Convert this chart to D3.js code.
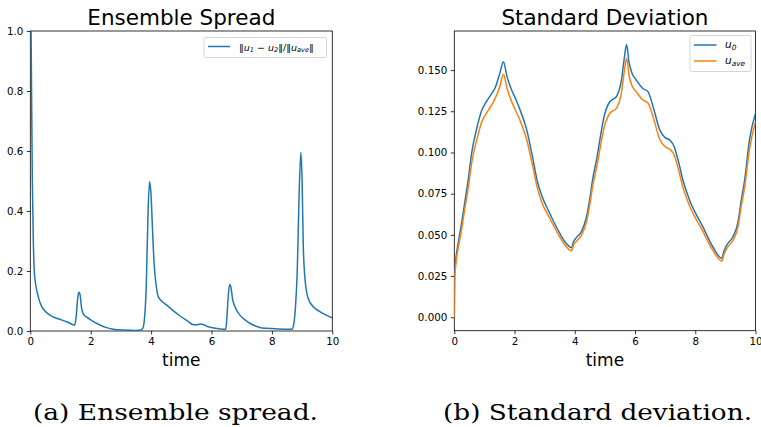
<!DOCTYPE html>
<html>
<head>
<meta charset="utf-8">
<script src="https://cdn.jsdelivr.net/npm/d3@7"></script>
<style>
  html, body { margin: 0; padding: 0; background: #fff; }
  svg { display: block; }
  text { fill: #000; }
</style>
</head>
<body>
<svg id="fig" width="761" height="427"></svg>
<script>
// ---- data: relative ensemble spread ----
const spreadTime = [0.00, 0.03, 0.066, 0.10, 0.13, 0.17, 0.21, 0.28, 0.38, 0.50, 0.65, 0.80, 0.98, 1.20, 1.42, 1.47,
  1.52, 1.57, 1.61, 1.65, 1.70, 1.76, 1.87, 2.05, 2.31, 2.50, 2.75, 3.10, 3.50, 3.65, 3.72, 3.78, 3.84, 3.90, 3.95,
  4.00, 4.05, 4.10, 4.17, 4.24, 4.35, 4.51, 4.75, 4.96, 5.20, 5.40, 5.50, 5.62, 5.72, 5.84, 6.10, 6.40, 6.47, 6.50,
  6.55, 6.60, 6.64, 6.70, 6.78, 6.94, 7.15, 7.38, 7.60, 7.83, 8.20, 8.66, 8.72, 8.78, 8.84, 8.90, 8.96, 9.00, 9.04,
  9.10, 9.20, 9.37, 9.60, 9.80, 10.0];
const spreadValues = [1.30, 0.95, 0.51, 0.30, 0.203, 0.16, 0.137, 0.108, 0.081, 0.065, 0.053, 0.045, 0.039, 0.031, 0.021, 0.019,
  0.05, 0.11, 0.129, 0.12, 0.075, 0.056, 0.046, 0.034, 0.020, 0.012, 0.006, 0.003, 0.002, 0.003, 0.008, 0.04, 0.15, 0.40, 0.498,
  0.45, 0.33, 0.225, 0.15, 0.114, 0.100, 0.087, 0.066, 0.050, 0.034, 0.021, 0.021, 0.023, 0.022, 0.016, 0.010, 0.006, 0.006, 0.03,
  0.11, 0.155, 0.147, 0.105, 0.080, 0.053, 0.034, 0.020, 0.012, 0.009, 0.007, 0.006, 0.02, 0.08, 0.20, 0.45, 0.596, 0.50, 0.28,
  0.17, 0.109, 0.081, 0.064, 0.053, 0.044];

// ---- data: standard deviation of u0 and u_ave ----
const stdTime = [0.00, 0.01, 0.05, 0.13, 0.25, 0.35, 0.46, 0.58, 0.75, 0.90, 1.07, 1.25, 1.35, 1.51, 1.63, 1.75, 1.90, 2.05,
  2.18, 2.40, 2.60, 2.75, 2.90, 3.17, 3.50, 3.73, 3.89, 3.96, 4.06, 4.22, 4.39, 4.50, 4.59, 4.72, 5.00, 5.16, 5.38, 5.55,
  5.65, 5.72, 5.80, 5.90, 6.04, 6.25, 6.43, 6.60, 6.82, 7.00, 7.15, 7.30, 7.43, 7.59, 7.81, 8.25, 8.58, 8.88, 8.95, 9.05,
  9.25, 9.41, 9.53, 9.64, 9.80, 10.0];
const stdU0 = [0.000, 0.025, 0.035, 0.045, 0.058, 0.070, 0.0833, 0.100, 0.115, 0.125, 0.131, 0.136, 0.139, 0.148, 0.155, 0.146, 0.138, 0.132,
  0.126, 0.114, 0.097, 0.083, 0.074, 0.063, 0.051, 0.0445, 0.0422, 0.046, 0.0485, 0.052, 0.061, 0.072, 0.0833, 0.0954, 0.1238, 0.1308, 0.1338, 0.144,
  0.158, 0.1655, 0.155, 0.148, 0.144, 0.139, 0.1369, 0.1278, 0.1137, 0.109, 0.1076, 0.1035, 0.0954, 0.0833, 0.0712, 0.055, 0.0428, 0.0358, 0.040, 0.0439,
  0.0489, 0.057, 0.0712, 0.0833, 0.1076, 0.1238];
const stdUave = [0.000, 0.022, 0.032, 0.042, 0.054, 0.066, 0.078, 0.094, 0.108, 0.118, 0.124, 0.129, 0.1325, 0.140, 0.1474, 0.139, 0.131, 0.125,
  0.1195, 0.108, 0.092, 0.079, 0.070, 0.060, 0.0488, 0.0425, 0.0403, 0.0440, 0.0463, 0.0497, 0.058, 0.0685, 0.079, 0.0905, 0.117, 0.1238, 0.1268, 0.1365,
  0.150, 0.1571, 0.147, 0.1405, 0.1369, 0.132, 0.1300, 0.1215, 0.1080, 0.1035, 0.1020, 0.0985, 0.0905, 0.0790, 0.0677, 0.0523, 0.0407, 0.0341, 0.0380, 0.0418,
  0.0466, 0.0542, 0.0677, 0.0790, 0.1020, 0.1187];

// ---- tick labels ----
const timeTicks = [0, 2, 4, 6, 8, 10];
const spreadTicks = [0.0, 0.2, 0.4, 0.6, 0.8, 1.0];
const stdTicks = [0.000, 0.025, 0.050, 0.075, 0.100, 0.125, 0.150];

const BLUE = "#1f77b4", ORANGE = "#ff7f0e";
const svg = d3.select("#fig");

function panel(opts) {
  const { id, left, right, top, bottom, xDomain, yDomain, yTicks, yFmt, title, titleW, caption, captionX, captionW } = opts;
  const g = svg.append("g");
  const x = d3.scaleLinear().domain(xDomain).range([left, right]);
  const y = d3.scaleLinear().domain(yDomain).range([bottom, top]);

  g.append("clipPath").attr("id", "clip-" + id)
    .append("rect").attr("x", left).attr("y", top).attr("width", right - left).attr("height", bottom - top);

  const xAxis = g.append("g").attr("transform", `translate(0,${bottom})`)
    .call(d3.axisBottom(x).tickValues(timeTicks).tickFormat(d3.format("d")).tickSize(3.5).tickPadding(3));
  const yAxis = g.append("g").attr("transform", `translate(${left},0)`)
    .call(d3.axisLeft(y).tickValues(yTicks).tickFormat(d3.format(yFmt)).tickSize(3.5).tickPadding(3.5));
  [xAxis, yAxis].forEach(a => {
    a.select(".domain").remove();
    a.selectAll(".tick line").attr("stroke", "#000").attr("stroke-width", 0.8);
    a.selectAll(".tick text").attr("font-family", "DejaVu Sans").attr("font-size", 10.3).attr("fill", "#000");
  });

  // frame
  g.append("rect").attr("x", left).attr("y", top).attr("width", right - left).attr("height", bottom - top)
    .attr("fill", "none").attr("stroke", "#000").attr("stroke-width", 0.8);

  g.append("text").attr("x", (left + right) / 2 - titleW / 2).attr("y", 24.5)
    .attr("font-family", "DejaVu Sans").attr("font-size", 20.5)
    .attr("textLength", titleW).attr("lengthAdjust", "spacingAndGlyphs").text(title);
  g.append("text").attr("x", (left + right) / 2).attr("y", 366).attr("text-anchor", "middle")
    .attr("font-family", "DejaVu Sans").attr("font-size", 17).text("time");
  g.append("text").attr("x", captionX).attr("y", 420)
    .attr("font-family", "DejaVu Serif").attr("font-size", 23)
    .attr("textLength", captionW).attr("lengthAdjust", "spacingAndGlyphs").text(caption);

  const plot = g.append("g").attr("clip-path", `url(#clip-${id})`);
  return { g, x, y, plot };
}

function drawLine(p, xs, ys, color) {
  const line = d3.line().x((d, i) => p.x(xs[i])).y(d => p.y(d)).curve(d3.curveMonotoneX);
  p.plot.append("path").datum(ys).attr("d", line)
    .attr("fill", "none").attr("stroke", color).attr("stroke-width", 1.5)
    .attr("stroke-linejoin", "round").attr("stroke-linecap", "round");
}

function mathLabel(sel, parts, x, y, size) {
  const t = sel.append("text").attr("x", x).attr("y", y).attr("font-family", "DejaVu Sans").attr("font-size", size);
  parts.forEach(([s, style]) => {
    const ts = t.append("tspan").text(s);
    if (style.includes("i")) ts.attr("font-style", "italic");
    if (style.includes("s")) ts.attr("font-size", size * 0.7).attr("dy", size * 0.15);
    if (style.includes("r")) ts.attr("dy", -size * 0.15);
  });
  return t;
}

// ---- panel (a) ----
const pa = panel({
  id: "a", left: 30.3, right: 332.3, top: 31, bottom: 331,
  xDomain: [0, 10], yDomain: [0, 1], yTicks: spreadTicks, yFmt: ".1f",
  title: "Ensemble Spread", titleW: 188, caption: "(a) Ensemble spread.", captionX: 33, captionW: 285
});
drawLine(pa, spreadTime, spreadValues, BLUE);

// legend (a)
pa.g.append("rect").attr("x", 204).attr("y", 37.5).attr("width", 122.5).attr("height", 20).attr("rx", 2)
  .attr("fill", "#fff").attr("fill-opacity", 0.8).attr("stroke", "#ccc").attr("stroke-width", 0.8);
pa.g.append("line").attr("x1", 208).attr("x2", 230).attr("y1", 46.5).attr("y2", 46.5)
  .attr("stroke", BLUE).attr("stroke-width", 1.5);
mathLabel(pa.g, [["‖", ""], ["u", "i"], ["1", "is"], [" − ", "r"], ["u", "i"], ["2", "is"], ["‖/‖", "r"], ["u", "i"], ["ave", "is"], ["‖", "r"]], 239, 50.5, 9.5);

// ---- panel (b) ----
const pb = panel({
  id: "b", left: 454.3, right: 755.5, top: 31, bottom: 330.7,
  xDomain: [0, 10], yDomain: [-0.00813, 0.1737], yTicks: stdTicks, yFmt: ".3f",
  title: "Standard Deviation", titleW: 207, caption: "(b) Standard deviation.", captionX: 443, captionW: 309
});
drawLine(pb, stdTime, stdU0, BLUE);
drawLine(pb, stdTime, stdUave, ORANGE);

// legend (b)
pb.g.append("rect").attr("x", 690).attr("y", 35.5).attr("width", 61).attr("height", 36).attr("rx", 2)
  .attr("fill", "#fff").attr("fill-opacity", 0.8).attr("stroke", "#ccc").attr("stroke-width", 0.8);
pb.g.append("line").attr("x1", 694).attr("x2", 716.5).attr("y1", 45).attr("y2", 45).attr("stroke", BLUE).attr("stroke-width", 1.5);
pb.g.append("line").attr("x1", 694).attr("x2", 716.5).attr("y1", 61).attr("y2", 61).attr("stroke", ORANGE).attr("stroke-width", 1.5);
mathLabel(pb.g, [["u", "i"], ["0", "is"]], 725, 48, 10.5);
mathLabel(pb.g, [["u", "i"], ["ave", "is"]], 725, 64, 10.5);
</script>
</body>
</html>
